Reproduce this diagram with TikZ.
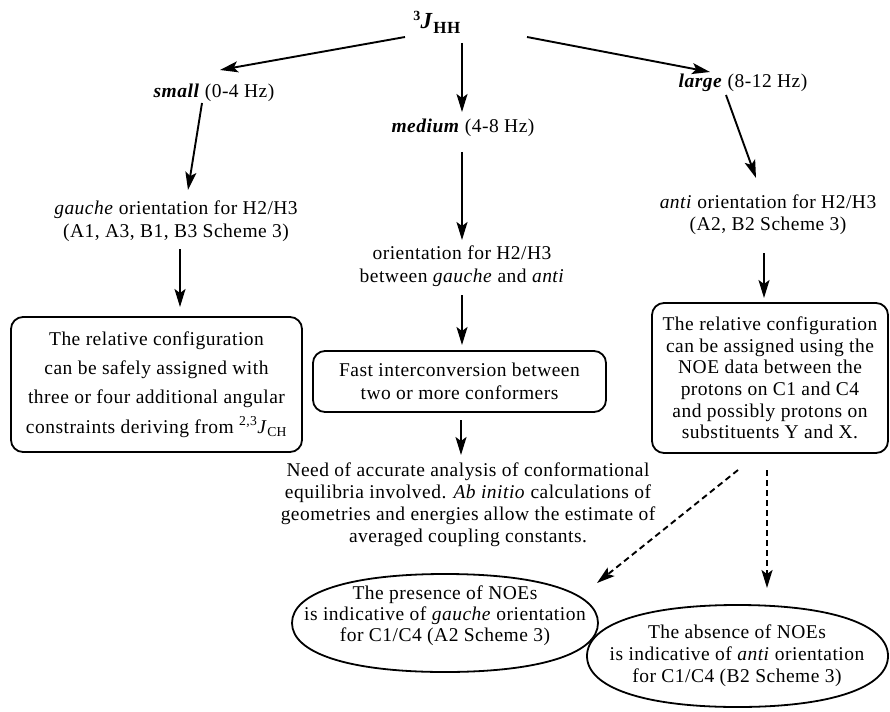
\documentclass[tikz,border=0pt]{standalone}
\usepackage{fontspec}
\setmainfont{Liberation Serif}[LetterSpace=2.5]
\usetikzlibrary{arrows.meta,shapes.geometric}
\begin{document}
\begin{tikzpicture}[x=1pt,y=-1pt,
  txt/.style={inner sep=0pt, align=center, font=\fontsize{19.5}{22.5}\selectfont},
  rbox/.style={draw, line width=1.8pt, rounded corners=12pt, inner sep=0pt, align=center},
  oval/.style={draw, line width=1.8pt},
  arr/.style={line width=1.9pt, -{Stealth[length=18pt,width=11pt,inset=4pt]}},
  darr/.style={arr, dash pattern=on 6pt off 4pt},
]
\useasboundingbox (0,0) rectangle (890,711);

% top
\node[txt] (jhh) at (437,22) {\raisebox{8pt}{\fontsize{14}{14}\selectfont\textbf{3}}\fontsize{23}{23}\selectfont\textbf{\textit{J}}\raisebox{-5pt}{\fontsize{17}{17}\selectfont\textbf{HH}}};
\node[txt] (small) at (214,93) {\textbf{\textit{small}} (0-4 Hz)};
\node[txt] (medium) at (463,128) {\textbf{\textit{medium}} (4-8 Hz)};
\node[txt] (large) at (743,83) {\textbf{\textit{large}} (8-12 Hz)};

% second level
\node[txt] (gauche) at (176,221) {\textit{gauche} orientation for H2/H3\\(A1, A3, B1, B3 Scheme 3)};
\node[txt] (between) at (462,266) {orientation for H2/H3\\between \textit{gauche} and \textit{anti}};
\node[txt] (anti) at (768,214.5) {\textit{anti} orientation for H2/H3\\(A2, B2 Scheme 3)};

% boxes
\node[rbox, minimum width=291pt, minimum height=135pt, font=\fontsize{19.5}{29.3}\selectfont] (lbox) at (156.5,384.5)
  {The relative configuration\\can be safely assigned with\\three or four additional angular\\constraints deriving from \textsuperscript{2,3}\textit{J}\textsubscript{CH}};
\node[rbox, minimum width=293pt, minimum height=61pt, font=\fontsize{19.5}{23}\selectfont] (mbox) at (459.5,381.5)
  {Fast interconversion between\\two or more conformers};
\node[rbox, minimum width=236pt, minimum height=150pt, font=\fontsize{19.5}{21.6}\selectfont] (rbox) at (770,378)
  {The relative configuration\\can be assigned using the\\NOE data between the\\protons on C1 and C4\\and possibly protons on\\substituents Y and X.};

\node[txt, font=\fontsize{19.5}{22}\selectfont] (need) at (468,505)
  {Need of accurate analysis of conformational\\equilibria involved. \textit{Ab initio} calculations of\\geometries and energies allow the estimate of\\averaged coupling constants.};

% ovals
\draw[oval] (598,623) .. controls (598,592.5) and (540,574) .. (445,574)
  .. controls (350,574) and (292,592.5) .. (292,623)
  .. controls (292,653.5) and (350,672) .. (445,672)
  .. controls (540,672) and (598,653.5) .. (598,623) -- cycle;
\node[txt, font=\fontsize{19.5}{21}\selectfont] (pres) at (445,616)
  {The presence of NOEs\\is indicative of \textit{gauche} orientation\\for C1/C4 (A2 Scheme 3)};
\draw[oval] (888,656) .. controls (888,624.4) and (830.8,605) .. (737.5,605)
  .. controls (644.2,605) and (587,624.4) .. (587,656)
  .. controls (587,687.6) and (644.2,707) .. (737.5,707)
  .. controls (830.8,707) and (888,687.6) .. (888,656) -- cycle;
\node[txt, font=\fontsize{19.5}{22}\selectfont] (abs) at (737,656)
  {The absence of NOEs\\is indicative of \textit{anti} orientation\\for C1/C4 (B2 Scheme 3)};

% connector end points
\coordinate (jhh-l) at (405,37);  \coordinate (small-t) at (220,70);
\coordinate (jhh-m) at (462,43);  \coordinate (medium-t) at (462,112);
\coordinate (jhh-r) at (527,37);  \coordinate (large-t) at (710,72);
\coordinate (small-b) at (202,103); \coordinate (gauche-t) at (188,190);
\coordinate (medium-b) at (462,152); \coordinate (between-t) at (462,240);
\coordinate (large-b) at (726,95); \coordinate (anti-t) at (756,178);
\coordinate (gauche-b) at (180,249); \coordinate (lbox-t) at (180,307);
\coordinate (between-b) at (462,295); \coordinate (mbox-t) at (462,345);
\coordinate (anti-b) at (764,253); \coordinate (rbox-t) at (764,298);
\coordinate (mbox-b) at (461,420); \coordinate (need-t) at (461,455);
\coordinate (rbox-b1) at (738,470); \coordinate (pres-t) at (597,583);
\coordinate (rbox-b2) at (767,470); \coordinate (abs-t) at (767,588);

\draw[arr] (jhh-l) -- (small-t);
\draw[arr] (jhh-m) -- (medium-t);
\draw[arr] (jhh-r) -- (large-t);
\draw[arr] (small-b) -- (gauche-t);
\draw[arr] (medium-b) -- (between-t);
\draw[arr] (large-b) -- (anti-t);
\draw[arr] (gauche-b) -- (lbox-t);
\draw[arr] (between-b) -- (mbox-t);
\draw[arr] (anti-b) -- (rbox-t);
\draw[arr] (mbox-b) -- (need-t);
\draw[darr] (rbox-b1) -- (pres-t);
\draw[darr] (rbox-b2) -- (abs-t);
\end{tikzpicture}
\end{document}
